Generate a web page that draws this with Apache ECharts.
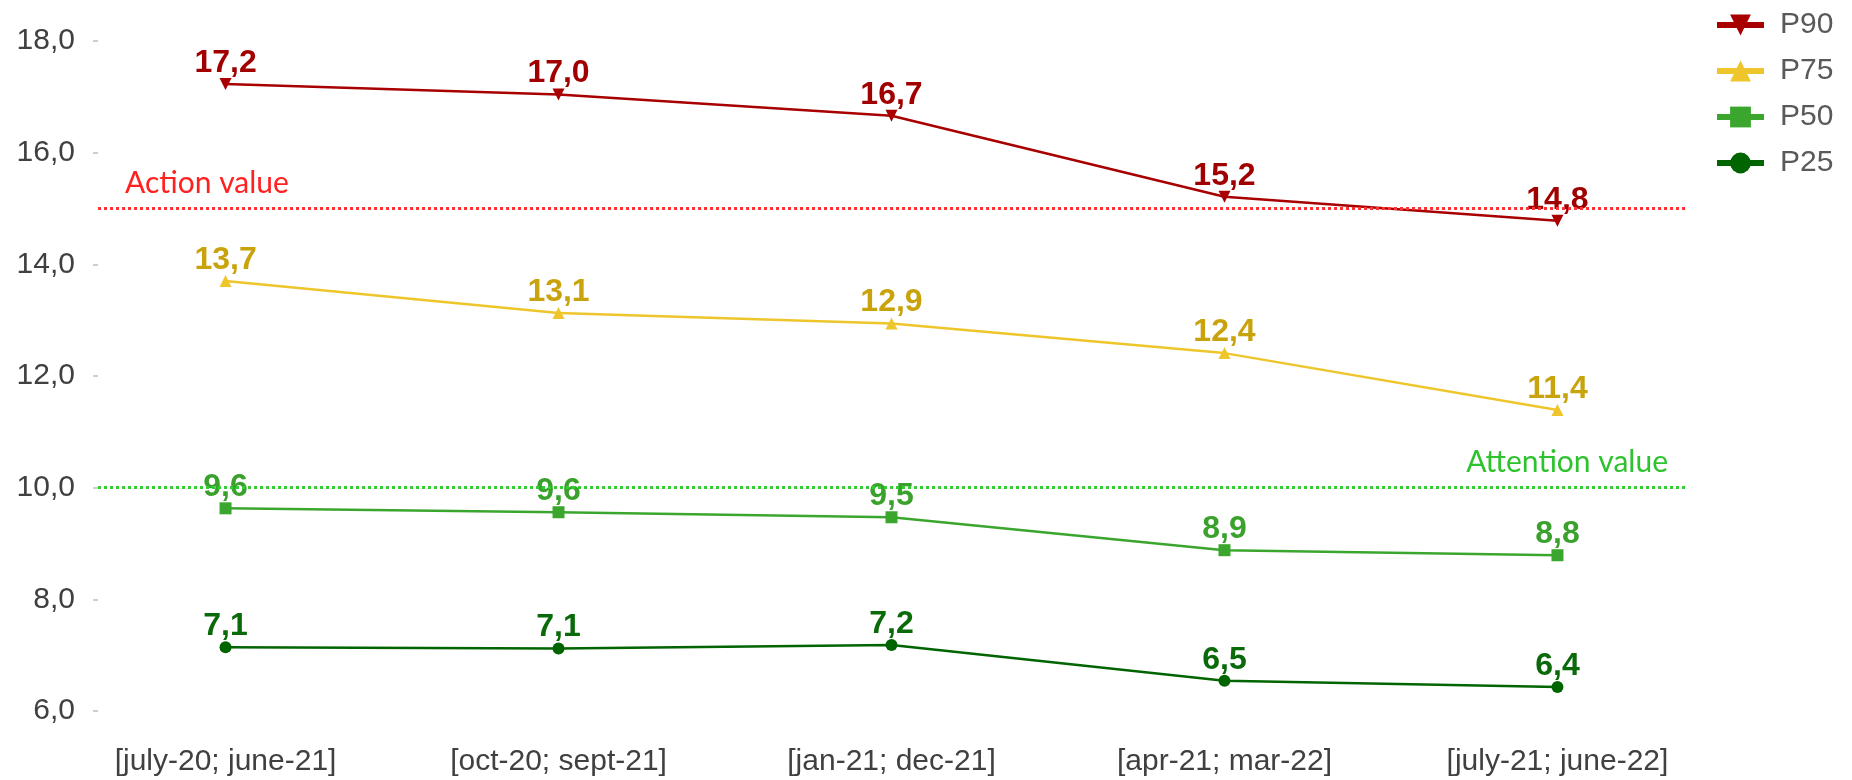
<!DOCTYPE html>
<html>
<head>
<meta charset="utf-8">
<script src="https://cdn.jsdelivr.net/npm/echarts@6/dist/echarts.min.js"></script>
<style>
  html, body { margin: 0; padding: 0; background: #fff; }
  #chart { width: 1852px; height: 780px; }
</style>
</head>
<body>
<div id="chart"></div>
<script>
// periodes
var categories = ['[july-20; june-21]', '[oct-20; sept-21]', '[jan-21; dec-21]', '[apr-21; mar-22]', '[july-21; june-22]'];

// percentiles
var p90 = [17.23, 17.04, 16.66, 15.21, 14.78];
var p75 = [13.70, 13.13, 12.94, 12.41, 11.39];
var p50 = [9.63, 9.56, 9.47, 8.88, 8.79];
var p25 = [7.14, 7.12, 7.18, 6.54, 6.43];

// seuils
var actionValue = 15;
var attentionValue = 10;

var yMin = 6, yMax = 18, yStep = 2;

function comma(v) {
  return v.toFixed(1).replace('.', ',');
}

function pts(arr) {
  return arr.map(function (v, i) { return [i, v]; });
}

function makeSeries(name, data, color, labelColor, symbol, rotate, size) {
  return {
    name: name,
    type: 'line',
    data: pts(data),
    symbol: symbol,
    symbolRotate: rotate,
    symbolSize: size,
    lineStyle: { color: color, width: 2.5 },
    itemStyle: { color: color },
    label: {
      show: true,
      position: 'top',
      distance: -1,
      color: labelColor,
      fontFamily: 'Liberation Sans',
      fontWeight: 'bold',
      fontSize: 32,
      formatter: function (p) { return comma(p.value[1]); }
    },
    emphasis: { disabled: true }
  };
}

var chart = echarts.init(document.getElementById('chart'));

var s90 = makeSeries('P90', p90, '#a80000', '#a00000', 'triangle', 180, 12);
var s75 = makeSeries('P75', p75, '#eec62c', '#c9a30c', 'triangle', 0, 12);
var s50 = makeSeries('P50', p50, '#3aa62e', '#3aa22c', 'rect', 0, 12);
var s25 = makeSeries('P25', p25, '#006400', '#0a6a0a', 'circle', 0, 12);

// ligne action
s90.markLine = {
  silent: true,
  symbol: 'none',
  animation: false,
  lineStyle: { color: '#ff3333', type: [3, 3], width: 3 },
  label: {
    show: true,
    position: 'insideStartTop',
    distance: [27, 10],
    formatter: 'Action value',
    color: '#ff2020',
    fontFamily: 'Lato',
    fontSize: 30
  },
  data: [{ yAxis: actionValue }]
};

// ligne attention
s50.markLine = {
  silent: true,
  symbol: 'none',
  animation: false,
  lineStyle: { color: '#33cc33', type: [3, 3], width: 3 },
  label: {
    show: true,
    position: 'insideEndTop',
    distance: [17, 10],
    formatter: 'Attention value',
    color: '#2ec22e',
    fontFamily: 'Lato',
    fontSize: 30
  },
  data: [{ yAxis: attentionValue }]
};

var option = {
  animation: false,
  textStyle: { fontFamily: 'Liberation Sans' },
  grid: { left: 98, right: 167, top: 41, bottom: 69 },
  legend: {
    orient: 'vertical',
    left: 1714,
    top: 10,
    padding: 0,
    itemWidth: 47,
    itemHeight: 26,
    itemGap: 16,
    lineStyle: { width: 6 },
    textStyle: { color: '#595959', fontSize: 30, padding: [0, 0, 0, 11] },
    data: ['P90', 'P75', 'P50', 'P25']
  },
  xAxis: {
    type: 'value',
    min: -0.383,
    max: categories.length - 1 + 0.383,
    splitLine: { show: false },
    axisLine: { show: false },
    axisTick: { show: false },
    axisLabel: {
      color: '#404040',
      fontSize: 30,
      margin: 36,
      showMinLabel: false,
      showMaxLabel: false,
      formatter: function (v) {
        return Number.isInteger(v) && categories[v] ? categories[v] : '';
      }
    }
  },
  yAxis: {
    type: 'value',
    min: yMin,
    max: yMax,
    interval: yStep,
    splitLine: { show: false },
    axisLine: { show: false, onZero: false },
    axisTick: { show: true, length: 5, lineStyle: { color: '#bfbfbf', width: 1.5 } },
    axisLabel: {
      color: '#404040',
      fontSize: 30,
      margin: 23,
      formatter: function (v) { return comma(v); }
    }
  },
  series: [s90, s75, s50, s25]
};

chart.setOption(option);
</script>
</body>
</html>
